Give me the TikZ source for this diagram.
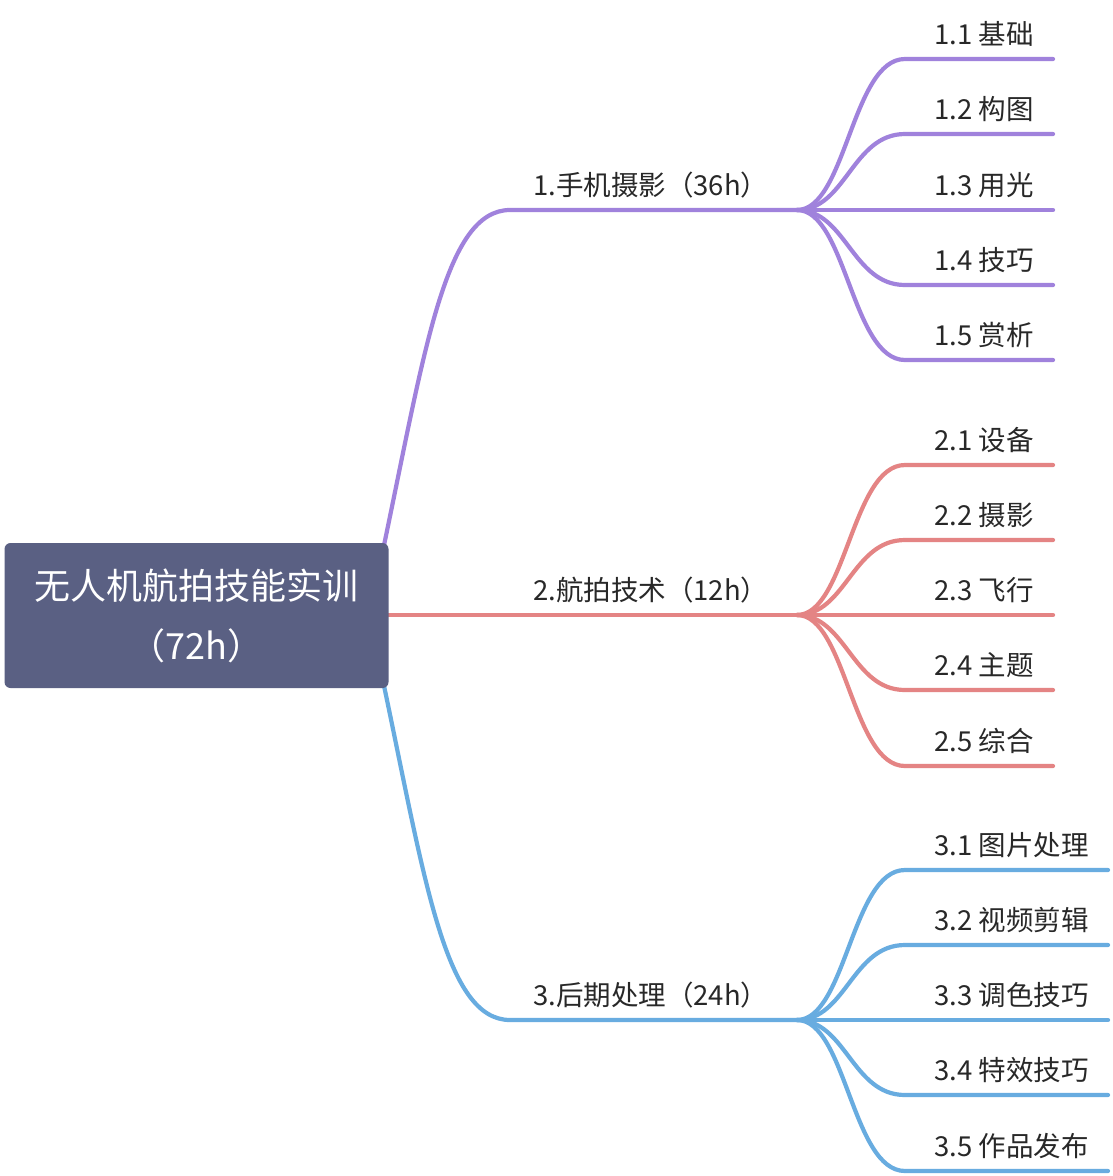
\documentclass[tikz,border=0pt]{standalone}
\usepackage{fontspec}
\setmainfont{Noto Sans CJK SC}
\definecolor{rootc}{RGB}{90,96,131}
\definecolor{purp}{RGB}{160,130,220}
\definecolor{redc}{RGB}{228,132,132}
\definecolor{bluec}{RGB}{104,172,224}
\definecolor{txt}{RGB}{40,40,40}
\begin{document}
\begin{tikzpicture}[x=1pt,y=-1pt,
  edge/.style={line width=4.2pt, line cap=round},
  lbl/.style={anchor=base west, inner sep=0pt, text=txt, font=\fontsize{27.5}{30}\selectfont},
]
\useasboundingbox[fill=white] (0,0) rectangle (1112,1176);

% branch junctions
\coordinate (b1a) at (383,550); \coordinate (b1b) at (510,210); \coordinate (b1c) at (797,210);
\coordinate (b2a) at (380,615); \coordinate (b2c) at (797,615);
\coordinate (b3a) at (383,681); \coordinate (b3b) at (510,1020); \coordinate (b3c) at (797,1020);

\draw[edge,purp] (b1a) .. controls (425,350) and (445,210) .. (b1b) -- (b1c);
\draw[edge,redc] (b2a) -- (b2c);
\draw[edge,bluec] (b3a) .. controls (425,880) and (445,1020) .. (b3b) -- (b3c);

% fans
\foreach \y [count=\i] in {59,134,210,285,360} {
  \coordinate (c1\i) at (905,\y); \coordinate (e1\i) at (1053,\y);
  \draw[edge,purp] (b1c) .. controls (846,210) and (852,\y) .. (c1\i) -- (e1\i);
}
\foreach \y [count=\i] in {465,540,615,690,766} {
  \coordinate (c2\i) at (905,\y); \coordinate (e2\i) at (1053,\y);
  \draw[edge,redc] (b2c) .. controls (846,615) and (852,\y) .. (c2\i) -- (e2\i);
}
\foreach \y [count=\i] in {870,945,1020,1095,1171} {
  \coordinate (c3\i) at (905,\y); \coordinate (e3\i) at (1108,\y);
  \draw[edge,bluec] (b3c) .. controls (846,1020) and (852,\y) .. (c3\i) -- (e3\i);
}

% root
\node[fill=rootc, rounded corners=6pt, minimum width=384pt, minimum height=145pt,
      text=white, align=center, font=\fontsize{36}{60}\selectfont]
  (root) at (196.5,615.5) {无人机航拍技能实训\\（72h）};

% branch labels
\node[lbl] (t1) at (533,195) {1.手机摄影（36h）};
\node[lbl] (t2) at (533,600) {2.航拍技术（12h）};
\node[lbl] (t3) at (533,1005) {3.后期处理（24h）};

% child labels
\node[lbl] (l11) at (934,44) {1.1 基础};
\node[lbl] (l12) at (934,119) {1.2 构图};
\node[lbl] (l13) at (934,195) {1.3 用光};
\node[lbl] (l14) at (934,270) {1.4 技巧};
\node[lbl] (l15) at (934,345) {1.5 赏析};
\node[lbl] (l21) at (934,450) {2.1 设备};
\node[lbl] (l22) at (934,525) {2.2 摄影};
\node[lbl] (l23) at (934,600) {2.3 飞行};
\node[lbl] (l24) at (934,675) {2.4 主题};
\node[lbl] (l25) at (934,751) {2.5 综合};
\node[lbl] (l31) at (934,855) {3.1 图片处理};
\node[lbl] (l32) at (934,930) {3.2 视频剪辑};
\node[lbl] (l33) at (934,1005) {3.3 调色技巧};
\node[lbl] (l34) at (934,1080) {3.4 特效技巧};
\node[lbl] (l35) at (934,1156) {3.5 作品发布};
\end{tikzpicture}
\end{document}
